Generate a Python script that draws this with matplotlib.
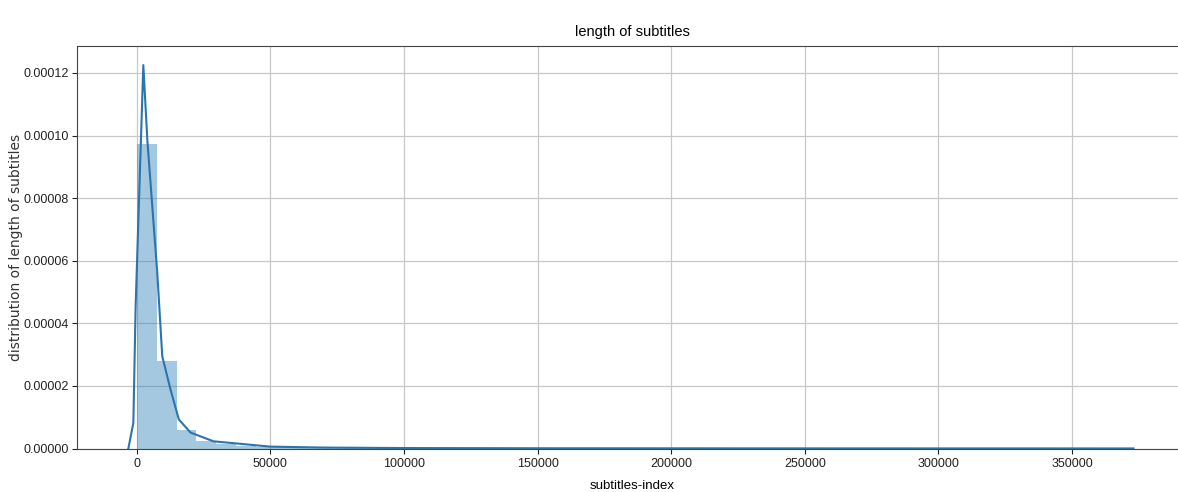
import numpy as np
import matplotlib
matplotlib.use("Agg")
import matplotlib.pyplot as plt

plt.rcParams['font.family'] = ['Liberation Sans', 'DejaVu Sans']
plt.rcParams['font.size'] = 10

# histogram (density) of subtitle lengths, 50 bins between min and max
data_min = 0
data_max = 373000
bin_heights = [9.72e-5, 2.78e-5, 5.8e-6, 2.3e-6, 1.3e-6, 8e-7, 5e-7, 3.5e-7, 2.5e-7, 2e-7,
               1.5e-7, 1.2e-7, 1e-7, 8e-8, 7e-8, 6e-8, 5e-8, 5e-8, 4e-8, 4e-8,
               3e-8, 3e-8, 3e-8, 2e-8, 2e-8, 2e-8, 2e-8, 2e-8, 2e-8, 2e-8,
               1e-8, 1e-8, 1e-8, 1e-8, 1e-8, 1e-8, 1e-8, 1e-8, 1e-8, 1e-8,
               1e-8, 1e-8, 1e-8, 1e-8, 1e-8, 1e-8, 1e-8, 1e-8, 1e-8, 1e-8]

# kde curve
kde_x = [-3100, -1230, -370, 2500, 4000, 5860, 7720, 9590, 12690, 15780,
         20150, 28730, 41300, 50000, 70000, 100000, 150000, 250000, 373000]
kde_y = [0.0, 8.2e-6, 4.57e-5, 1.225e-4, 9.86e-5, 7.73e-5, 5.61e-5, 2.94e-5, 1.88e-5, 9.3e-6,
         5.1e-6, 2.3e-6, 1.3e-6, 6e-7, 3e-7, 1.5e-7, 8e-8, 4e-8, 2e-8]

xticks = [0, 50000, 100000, 150000, 200000, 250000, 300000, 350000]
yticks = [0, 0.00002, 0.00004, 0.00006, 0.00008, 0.00010, 0.00012]

edges = np.linspace(data_min, data_max, len(bin_heights) + 1)

fig = plt.figure(figsize=(11.78, 4.92), dpi=100)
ax = fig.add_axes([0.0654, 0.0884, 0.9422, 0.8181])
ax.bar(edges[:-1], bin_heights, width=np.diff(edges), align='edge',
       color='#1f77b4', alpha=0.4, linewidth=0)
ax.plot(kde_x, kde_y, color='#2a75ad', linewidth=1.5)

ax.set_xlim(-22300, 393000)
ax.set_ylim(0, 0.0001286)
ax.set_xticks(xticks)
ax.set_xticklabels([str(v) for v in xticks])
ax.set_yticks(yticks)
ax.set_yticklabels(['%.5f' % v for v in yticks])
ax.tick_params(labelsize=9, colors='#222222')
ax.tick_params(axis='y', pad=2.5)
ax.grid(True, color='#c8c8c8', linewidth=0.9)
ax.set_axisbelow(True)
for s in ax.spines.values():
    s.set_color('#444444')

ax.set_title("length of subtitles", fontsize=10.5, pad=7)
ax.set_xlabel("subtitles-index", fontsize=9.5, labelpad=7)
ax.set_ylabel("distribution of length of subtitles", family='DejaVu Sans', fontsize=10,
              color='#333333', labelpad=0)
fig.savefig('out.png', dpi=100)
